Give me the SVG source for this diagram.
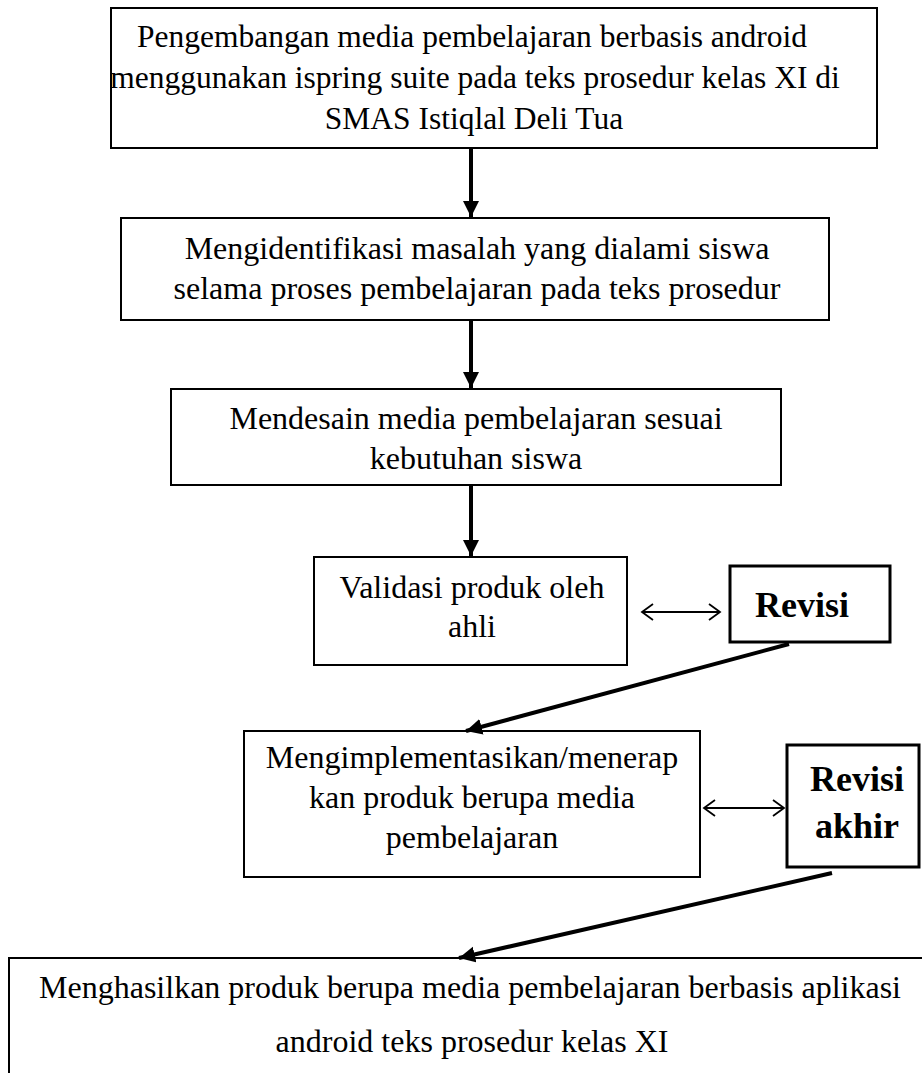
<svg xmlns="http://www.w3.org/2000/svg" width="922" height="1073" viewBox="0 0 922 1073">
<style>
.box{fill:#fff;stroke:#000;stroke-width:2}
.rbox{fill:#fff;stroke:#000;stroke-width:3}
.t{font-family:"Liberation Serif","Times New Roman",serif;font-size:32px;fill:#000;text-anchor:middle}
.s{font-size:31.5px}
.b{font-family:"Liberation Serif","Times New Roman",serif;font-size:36px;font-weight:bold;fill:#000;text-anchor:middle}
.thick{stroke:#000;stroke-width:4;fill:none}
.thin{stroke:#000;stroke-width:1.8;fill:none}
</style>
<defs>
<marker id="ah" markerUnits="userSpaceOnUse" markerWidth="18" markerHeight="18" viewBox="0 0 18 18" refX="16" refY="9" orient="auto">
<path d="M0,1 L16,9 L0,17 Z" fill="#000"/>
</marker>
<marker id="oa" markerUnits="userSpaceOnUse" markerWidth="14" markerHeight="20" viewBox="0 0 14 20" refX="12" refY="10" orient="auto-start-reverse">
<path d="M1,2 L12,10 L1,18" fill="none" stroke="#000" stroke-width="1.8"/>
</marker>
</defs>
<g id="n1">
<rect class="box" x="111" y="8" width="766" height="140"/>
<text class="t s" x="472" y="47">Pengembangan media pembelajaran berbasis android</text>
<text class="t s" x="475" y="88">menggunakan ispring suite pada teks prosedur kelas XI di</text>
<text class="t s" x="474" y="129">SMAS Istiqlal Deli Tua</text>
</g>
<g id="n2">
<rect class="box" x="121" y="218" width="708" height="102"/>
<text class="t" x="477" y="259">Mengidentifikasi masalah yang dialami siswa</text>
<text class="t" x="477" y="299">selama proses pembelajaran pada teks prosedur</text>
</g>
<g id="n3">
<rect class="box" x="171" y="389" width="610" height="96"/>
<text class="t" x="476" y="429">Mendesain media pembelajaran sesuai</text>
<text class="t" x="476" y="469">kebutuhan siswa</text>
</g>
<g id="n4">
<rect class="box" x="314" y="557" width="313" height="108"/>
<text class="t" x="472" y="598">Validasi produk oleh</text>
<text class="t" x="472" y="637">ahli</text>
</g>
<g id="n5">
<rect class="rbox" x="730" y="566" width="160" height="76"/>
<text class="b" x="802" y="617">Revisi</text>
</g>
<g id="n6">
<rect class="box" x="244" y="731" width="456" height="146"/>
<text class="t" x="472" y="768">Mengimplementasikan/menerap</text>
<text class="t" x="472" y="808">kan produk berupa media</text>
<text class="t" x="472" y="848">pembelajaran</text>
</g>
<g id="n7">
<rect class="rbox" x="787" y="745" width="132" height="122"/>
<text class="b" x="857" y="791">Revisi</text>
<text class="b" x="857" y="838">akhir</text>
</g>
<g id="n8">
<rect class="box" x="9" y="958" width="930" height="140"/>
<text class="t" x="470" y="998">Menghasilkan produk berupa media pembelajaran berbasis aplikasi</text>
<text class="t" x="472" y="1052">android teks prosedur kelas XI</text>
</g>
<g id="connectors">
<line class="thick" x1="471" y1="149" x2="471" y2="217" marker-end="url(#ah)"/>
<line class="thick" x1="471" y1="321" x2="471" y2="388" marker-end="url(#ah)"/>
<line class="thick" x1="471" y1="486" x2="471" y2="556" marker-end="url(#ah)"/>
<line class="thin" x1="642" y1="612" x2="720" y2="612" marker-start="url(#oa)" marker-end="url(#oa)"/>
<line class="thick" x1="789" y1="644" x2="466" y2="731" marker-end="url(#ah)"/>
<line class="thin" x1="704" y1="808" x2="784" y2="808" marker-start="url(#oa)" marker-end="url(#oa)"/>
<line class="thick" x1="832" y1="873" x2="459" y2="958" marker-end="url(#ah)"/>
</g>
</svg>
